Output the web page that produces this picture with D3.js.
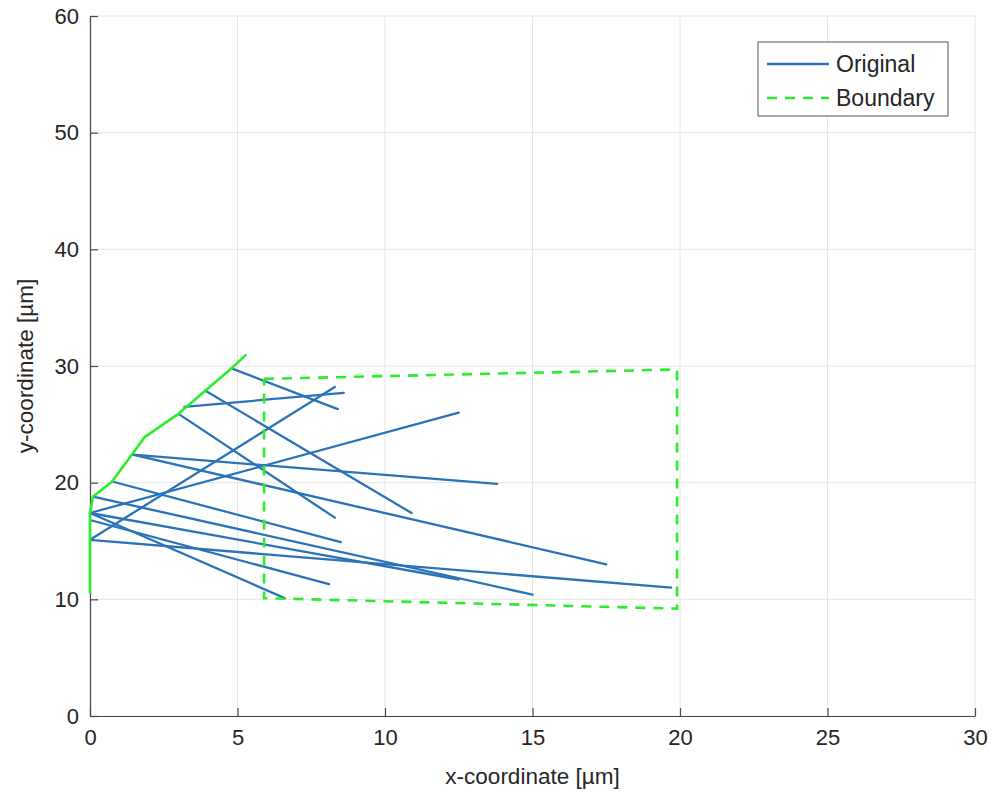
<!DOCTYPE html>
<html>
<head>
<meta charset="utf-8">
<script src="https://cdn.jsdelivr.net/npm/d3@7"></script>
<style>
  html, body { margin: 0; padding: 0; background: #fff; }
  svg { display: block; font-family: "Liberation Sans", Arial, Helvetica, sans-serif; }
</style>
</head>
<body>
<svg id="chart" width="997" height="803"></svg>
<script>
// Axis ticks
const xTicks = [0, 5, 10, 15, 20, 25, 30];
const yTicks = [0, 10, 20, 30, 40, 50, 60];

// Segment start points [x, y] in µm
const segStart = [
  [4.8, 29.8], [3.9, 27.9], [3.2, 26.5], [3.0, 25.9],
  [1.45, 22.4], [1.45, 22.4], [0.75, 20.1], [0.1, 18.8],
  [0, 17.4], [0, 17.4], [0, 17.4], [0, 16.8],
  [0, 15.1], [0, 15.1]
];
// Segment end points [x, y] in µm
const segEnd = [
  [8.4, 26.3], [10.9, 17.4], [8.6, 27.7], [8.3, 17.0],
  [13.8, 19.9], [17.5, 13.0], [8.5, 14.9], [15.0, 10.4],
  [12.5, 26.0], [12.5, 11.7], [6.6, 10.1], [8.1, 11.3],
  [8.3, 28.2], [19.7, 11.0]
];

// Solid boundary along the left edge of the segment origins
const edgeX = [0, 0, 0.1, 0.75, 1.85, 3.0, 4.8, 5.3];
const edgeY = [10.5, 17.4, 18.8, 20.1, 23.9, 25.9, 29.8, 31.0];

// Dashed boundary polygon
const boxX = [5.9, 19.9, 19.9, 5.9, 5.9];
const boxY = [28.9, 29.7, 9.2, 10.1, 28.9];

const legendLabels = ["Original", "Boundary"];

const blue = "#2a73b8";
const green = "#2aee2a";
const axisColor = "#4a4a4a";
const textColor = "#262626";

const margin = { left: 90, right: 22, top: 16, bottom: 87 };
const W = 997, H = 803;

const x = d3.scaleLinear().domain([0, 30]).range([margin.left, W - margin.right]);
const y = d3.scaleLinear().domain([0, 60]).range([H - margin.bottom, margin.top]);

const svg = d3.select("#chart");

// Grid
const grid = svg.append("g");
grid.selectAll("line.gx").data(xTicks).join("line")
  .attr("x1", d => x(d)).attr("x2", d => x(d))
  .attr("y1", y(0)).attr("y2", y(60))
  .attr("stroke", "#e6e6e6").attr("stroke-width", 1);
grid.selectAll("line.gy").data(yTicks).join("line")
  .attr("x1", x(0)).attr("x2", x(30))
  .attr("y1", d => y(d)).attr("y2", d => y(d))
  .attr("stroke", "#e6e6e6").attr("stroke-width", 1);

// Axes with inward ticks
const xAxis = d3.axisBottom(x).tickValues(xTicks).tickSizeInner(-8).tickSizeOuter(0).tickPadding(18);
const yAxis = d3.axisLeft(y).tickValues(yTicks).tickSizeInner(-8).tickSizeOuter(0).tickPadding(11);

const gx = svg.append("g").attr("transform", `translate(0,${y(0)})`).call(xAxis);
const gy = svg.append("g").attr("transform", `translate(${x(0)},0)`).call(yAxis);
[gx, gy].forEach(g => {
  g.select(".domain").attr("stroke", axisColor).attr("stroke-width", 1.2);
  g.selectAll(".tick line").attr("stroke", axisColor).attr("stroke-width", 1.2);
  g.selectAll(".tick text").attr("fill", textColor).attr("font-size", 22)
    .attr("font-family", "Liberation Sans, Arial, sans-serif");
});
gx.selectAll(".tick text").attr("dy", "0.5em");

// Axis labels
svg.append("text")
  .attr("x", (x(0) + x(30)) / 2).attr("y", 784)
  .attr("text-anchor", "middle").attr("fill", textColor).attr("font-size", 22.5)
  .text("x-coordinate [µm]");
svg.append("text")
  .attr("transform", `translate(33,${(y(0) + y(60)) / 2}) rotate(-90)`)
  .attr("text-anchor", "middle").attr("fill", textColor).attr("font-size", 22.5)
  .text("y-coordinate [µm]");

// Segments
const segs = segStart.map((s, i) => ({ s, e: segEnd[i] }));
svg.append("g").selectAll("line").data(segs).join("line")
  .attr("x1", d => x(d.s[0])).attr("y1", d => y(d.s[1]))
  .attr("x2", d => x(d.e[0])).attr("y2", d => y(d.e[1]))
  .attr("stroke", blue).attr("stroke-width", 2.3).attr("stroke-linecap", "round");

// Solid left boundary
const edgePts = edgeX.map((v, i) => [v, edgeY[i]]);
svg.append("path")
  .attr("d", d3.line().x(d => x(d[0])).y(d => y(d[1]))(edgePts))
  .attr("fill", "none").attr("stroke", green).attr("stroke-width", 2.6)
  .attr("stroke-linejoin", "round");

// Dashed boundary
const boxPts = boxX.map((v, i) => [v, boxY[i]]);
svg.append("path")
  .attr("d", d3.line().x(d => x(d[0])).y(d => y(d[1]))(boxPts))
  .attr("fill", "none").attr("stroke", green).attr("stroke-width", 2.6)
  .attr("stroke-dasharray", "10,8");

// Legend
const lg = svg.append("g");
lg.append("rect").attr("x", 758).attr("y", 42).attr("width", 190).attr("height", 74)
  .attr("fill", "#fff").attr("stroke", "#555").attr("stroke-width", 1);
const legendStyles = [
  { color: blue, dash: null },
  { color: green, dash: "10,8" }
];
legendLabels.forEach((lab, i) => {
  const ly = 64 + i * 34;
  lg.append("line").attr("x1", 767).attr("x2", 829).attr("y1", ly).attr("y2", ly)
    .attr("stroke", legendStyles[i].color).attr("stroke-width", 2.4)
    .attr("stroke-dasharray", legendStyles[i].dash);
  lg.append("text").attr("x", 836).attr("y", ly).attr("dy", "0.35em")
    .attr("fill", textColor).attr("font-size", 23).text(lab);
});
</script>
</body>
</html>
